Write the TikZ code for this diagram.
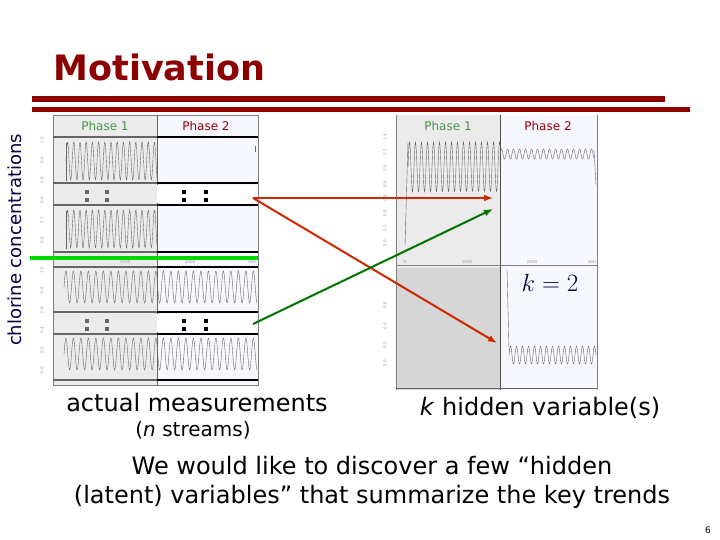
\documentclass[tikz,border=0pt]{standalone}
\usepackage{fontspec}
\setmainfont{DejaVu Sans}
\usetikzlibrary{arrows.meta}
\begin{document}
\begin{tikzpicture}[x=1pt,y=-1pt,
  arr/.style={line width=2pt,-{Latex[length=9pt,width=7pt]}},
  wave/.style={draw=black!60,line width=0.4pt},
  tick/.style={font=\fontsize{4}{4}\selectfont,text=black!40,rotate=90,inner sep=0pt},
  gdot/.style={fill=black!60,minimum size=4pt,inner sep=0pt},
  bdot/.style={fill=black,minimum size=4pt,inner sep=0pt},
  hdr/.style={font=\fontsize{12}{14}\selectfont},
  txt/.style={font=\fontsize{24}{29}\selectfont,text=black}]
\useasboundingbox (0,0) rectangle (720,540);
\fill[white] (0,0) rectangle (720,540);
% title
\node[anchor=west,font=\bfseries\fontsize{35}{38}\selectfont,text=red!55!black] (title) at (50,67) {Motivation};
\fill[red!55!black] (32,96) rectangle (665,102);
\fill[red!55!black] (32,107) rectangle (690,112);
% left panel backgrounds
\fill[black!8] (53,115) rectangle (157,385);
\fill[blue!3] (157,115) rectangle (258,385);
\draw[black!50] (53,115) rectangle (258,385);
\draw[black!60] (157,115) -- (157,385);
\node[hdr,text=green!40!black!70] (p1a) at (105,126) {Phase 1};
\node[hdr,text=red!60!black] (p2a) at (206,126) {Phase 2};
% row lines
\foreach \y in {137,183,205,252,267,312,334,380}{
  \draw[black!60,line width=2pt] (53,\y) -- (157,\y);
  \draw[black,line width=2pt] (157,\y) -- (258,\y);}
\fill[white] (157,185) rectangle (256,203);
\fill[white] (157,314) rectangle (256,332);
% waveforms
\foreach \y in {141,209}{
  \draw[wave] plot[domain=0:91,samples=200] ({66+\x},{\y+20-19*sin(\x*58)});
  \draw[wave] (66,\y+40) -- (66,\y+2);}
\foreach \y in {271,338}{
  \draw[wave] plot[domain=0:193,samples=360] ({64+\x},{\y+16-16*sin(\x*48)});}
\draw[wave] (255,146) -- (255,152);
% dots
\foreach \yy in {192,200,321,329}{
  \node[gdot] (d\yy a) at (87,\yy) {};
  \node[gdot] (d\yy b) at (107,\yy) {};
  \node[bdot] (d\yy c) at (184,\yy) {};
  \node[bdot] (d\yy d) at (206,\yy) {};}
% tick labels left
\foreach \y/\t in {140/1.0,160/0.8,180/0.6,200/0.4,220/0.2,240/0.0,270/1.0,290/0.8,310/0.6,330/0.4,350/0.2,370/0.0}{
  \node[tick] at (42,\y) {\t};}
\node[font=\fontsize{4}{4}\selectfont,text=black!40] at (125,262) {1000};
\node[font=\fontsize{4}{4}\selectfont,text=black!40] at (190,262) {2000};
\node[font=\fontsize{4}{4}\selectfont,text=black!40] at (252,262) {300};
\fill[green!85!black] (30,256) rectangle (258,260);
\node[rotate=90,font=\fontsize{18}{20}\selectfont,text=blue!25!black] (ylab) at (15,240) {chlorine concentrations};
% right panel
\fill[black!8] (396,115) rectangle (500,268);
\fill[black!16] (396,268) rectangle (500,390);
\fill[blue!3] (500,115) rectangle (597,390);
\draw[black!70] (500,115) -- (500,390);
\draw[black!50] (396,115) -- (396,390) (597,115) -- (597,390);
\draw[black!50] (396,265) -- (597,265);
\draw[black!60] (396,388) -- (597,388);
\node[hdr,text=green!40!black!70] (p1b) at (448,126) {Phase 1};
\node[hdr,text=red!60!black] (p2b) at (548,126) {Phase 2};
\draw[wave] (405,245) -- (408,142);
\draw[wave] plot[domain=0:92,samples=200] ({408+\x},{167-25*sin(\x*60)});
\draw[wave] plot[domain=0:94,samples=200] ({500+\x},{154-5*sin(\x*60)});
\draw[wave] (594,150) -- (596,185);
\draw[wave] (507,270) -- (509,350);
\draw[wave] plot[domain=0:87,samples=200] ({509+\x},{355-9*sin(\x*60)});
\foreach \y/\t in {137/1.4,152/1.2,168/1.0,184/0.8,198/0.6,213/0.4,228/0.2,243/0.0,305/0.6,326/0.4,345/0.2,363/0.0}{
  \node[tick] at (385,\y) {\t};}
\node[font=\fontsize{4}{4}\selectfont,text=black!40] at (405,262) {0};
\node[font=\fontsize{4}{4}\selectfont,text=black!40] at (467,262) {1000};
\node[font=\fontsize{4}{4}\selectfont,text=black!40] at (532,262) {2000};
\node[font=\fontsize{4}{4}\selectfont,text=black!40] at (592,262) {300};
\node[font=\fontsize{28}{30}\selectfont,text=blue!25!black] (k2) at (550,283) {$k=2$};
% arrows
\coordinate (src1) at (253,198);
\coordinate (src2) at (253,324);
\coordinate (t1) at (493,198);
\coordinate (t2) at (497,343);
\coordinate (t3) at (493,209);
\draw[arr,draw=orange!40!red!80!black] (src1) -- (t1);
\draw[arr,draw=orange!40!red!80!black] (src1) -- (t2);
\draw[arr,draw=green!45!black] (src2) -- (t3);
% texts
\node[txt] (am) at (197,403) {actual measurements};
\node[font=\fontsize{20}{22}\selectfont] (ns) at (193,430) {(\textit{n} streams)};
\node[txt] (khv) at (540,408) {\textit{k} hidden variable(s)};
\node[txt,align=center] (bottom) at (372,482) {We would like to discover a few “hidden\\(latent) variables” that summarize the key trends};
\node[font=\fontsize{9}{10}\selectfont] (pg) at (708,530) {6};
\end{tikzpicture}
\end{document}
